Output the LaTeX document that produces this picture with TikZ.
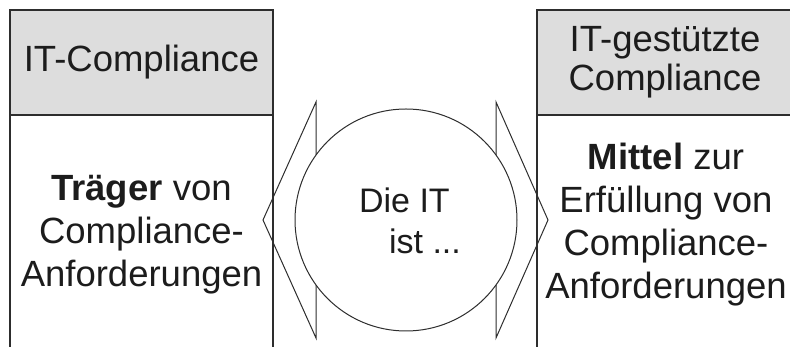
\documentclass[tikz,border=0pt]{standalone}
\usepackage{fontspec}
\setmainfont{Liberation Sans}
\usepackage{xcolor}
\usepackage{tikz}
\usetikzlibrary{calc, positioning}

\definecolor{headgray}{RGB}{221,221,221}
\definecolor{linegray}{RGB}{45,45,45}
\definecolor{textdark}{RGB}{28,28,28}

\begin{document}
\begin{tikzpicture}[x=1pt, y=1pt]
	\useasboundingbox (0,0) rectangle (790,347);

	% styles
	\tikzset{
	head/.style = {draw=linegray, line width=1.3pt, fill=headgray, outer sep=0pt, inner sep=0pt,
		minimum width=263pt, minimum height=105pt, text=textdark, align=center,
		font=\fontsize{36.5}{39}\selectfont},
	body/.style = {draw=linegray, line width=1.3pt, outer sep=0pt, inner sep=0pt,
		minimum width=263pt, minimum height=250pt},
	bodytext/.style = {text=textdark, align=center, inner sep=0pt, font=\fontsize{36.5}{43}\selectfont},
	wedge/.style = {draw=linegray, line width=1pt, line join=miter},
	ring/.style = {circle, draw=linegray, line width=1pt, fill=white, minimum size=222pt, inner sep=0pt}
	}

	% left column
	\node[head] (lhead) at (141.5,284.5) {IT-Compliance};
	\node[body, below=0pt of lhead] (lbody) {};
	\node[bodytext] (ltext) at (141.5,112) {\textbf{Träger} von\\Compliance-\\Anforderungen};

	% right column
	\node[head, minimum width=256pt] (rhead) at (665,284.5) {IT-gestützte\\Compliance};
	\node[body, minimum width=256pt, below=0pt of rhead] (rbody) {};
	\node[bodytext] (rtext) at (666,122) {\textbf{Mittel} zur\\Erfüllung von\\Compliance-\\Anforderungen};

	% wedges and circle
	\coordinate (c) at (406,127);
	\draw[wedge] ($(c)+(-90,118)$) -- ($(c)+(-143,0)$) -- ($(c)+(-90,-118)$) -- cycle;
	\draw[wedge] ($(c)+(90,118)$) -- ($(c)+(142,0)$) -- ($(c)+(90,-118)$) -- cycle;
	\node[ring] (it) at (c) {};
	\node[text=textdark, align=left, inner sep=0pt, font=\fontsize{34}{41}\selectfont]
		(ittext) at (410,126.5) {Die IT\\\hspace*{30pt}ist ...};

\end{tikzpicture}
\end{document}
